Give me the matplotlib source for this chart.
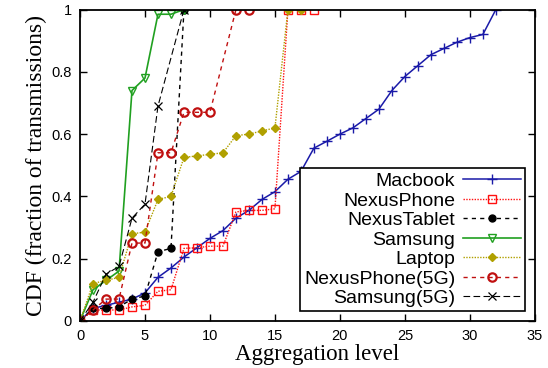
import matplotlib
matplotlib.use("Agg")
import matplotlib.pyplot as plt

# CDF of aggregation level per device
x_macbook = list(range(0, 33))
y_macbook = [0, 0.04, 0.05, 0.06, 0.07, 0.09, 0.14, 0.17, 0.205, 0.235, 0.265,
             0.29, 0.33, 0.355, 0.39, 0.415, 0.455, 0.48, 0.555, 0.577, 0.60,
             0.62, 0.65, 0.68, 0.74, 0.785, 0.82, 0.855, 0.875, 0.895, 0.91,
             0.92, 1.0]

x_nexusphone = list(range(0, 19))
y_nexusphone = [0, 0.035, 0.035, 0.035, 0.045, 0.05, 0.095, 0.10, 0.233, 0.235,
                0.24, 0.24, 0.35, 0.355, 0.355, 0.36, 1.0, 1.0, 1.0]

x_nexustablet = list(range(0, 9))
y_nexustablet = [0, 0.04, 0.04, 0.045, 0.07, 0.08, 0.222, 0.233, 1.0]

x_samsung = list(range(0, 9))
y_samsung = [0, 0.10, 0.13, 0.16, 0.74, 0.78, 0.985, 0.985, 1.0]

x_laptop = list(range(0, 18))
y_laptop = [0, 0.12, 0.13, 0.14, 0.28, 0.285, 0.39, 0.40, 0.525, 0.53, 0.535,
            0.54, 0.595, 0.60, 0.61, 0.62, 1.0, 1.0]

x_phone5g = [0, 1, 2, 3, 4, 5, 6, 7, 8, 9, 10, 12, 13]
y_phone5g = [0, 0.035, 0.07, 0.07, 0.25, 0.25, 0.54, 0.54, 0.67, 0.67, 0.67, 1.0, 1.0]

x_samsung5g = [0, 1, 2, 3, 4, 5, 6, 8]
y_samsung5g = [0, 0.06, 0.15, 0.175, 0.33, 0.375, 0.69, 1.0]

fig = plt.figure(figsize=(5.48, 3.68), dpi=100)
ax = fig.add_axes([0.146, 0.128, 0.83, 0.846])

ax.plot(x_macbook, y_macbook, color='#1a1aa8', ls='-', lw=1.1, marker='+',
        ms=7, mew=1.0, label='Macbook')
ax.plot(x_nexusphone, y_nexusphone, color='#ff1010', ls=(0, (1, 1)), lw=1.0,
        marker='s', ms=5.5, mfc='none', mew=1.0, label='NexusPhone')
ax.plot(x_nexustablet, y_nexustablet, color='black', ls=(0, (3, 3)), lw=1.0,
        marker='o', ms=5, label='NexusTablet')
ax.plot(x_samsung, y_samsung, color='#20a020', ls='-', lw=1.2, marker='v',
        ms=6, mfc='none', mew=1.0, label='Samsung')
ax.plot(x_laptop, y_laptop, color='#b0a000', ls=(0, (1, 1)), lw=1.0,
        marker='D', ms=4.5, label='Laptop')
ax.plot(x_phone5g, y_phone5g, color='#c01010', ls=(0, (3, 3)), lw=1.0,
        marker='o', ms=6, mfc='none', mew=1.6, label='NexusPhone(5G)')
ax.plot(x_samsung5g, y_samsung5g, color='black', ls=(0, (6, 3)), lw=0.8,
        marker='x', ms=5.5, mew=0.9, label='Samsung(5G)')

ax.set_xlim(0, 35)
ax.set_ylim(0, 1)
ax.set_xticks(range(0, 36, 5))
ax.set_yticks([0, 0.2, 0.4, 0.6, 0.8, 1.0])
ax.set_yticklabels(['0', '0.2', '0.4', '0.6', '0.8', '1'])
ax.tick_params(direction='in', top=True, right=True, length=5, width=1,
               labelsize=10.5, pad=6)
for lab in ax.get_xticklabels() + ax.get_yticklabels():
    lab.set_family('Liberation Sans')
for s in ax.spines.values():
    s.set_linewidth(1.3)

ax.set_xlabel('Aggregation level', family='Liberation Serif', fontsize=16.5, labelpad=2)
ax.xaxis.set_label_coords(0.522, -0.075)
ax.set_ylabel('CDF (fraction of transmissions)', family='Liberation Serif',
              fontsize=17, labelpad=3)

leg = ax.legend(loc='lower right', markerfirst=False, frameon=True,
                fancybox=False, edgecolor='black', framealpha=1,
                prop={'family': 'Liberation Sans', 'size': 14},
                handlelength=3.0, labelspacing=0.1, borderpad=0.2,
                handletextpad=0.4, borderaxespad=0.5)
leg.get_frame().set_linewidth(1.2)

fig.savefig('out.png', dpi=100)
